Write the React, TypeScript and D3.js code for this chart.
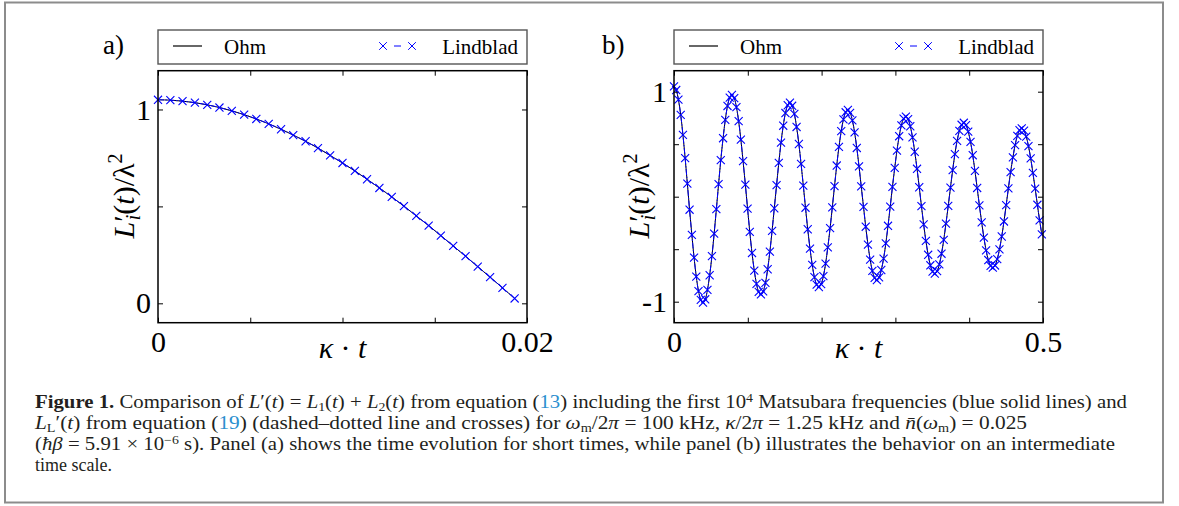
import { useEffect, useRef } from 'react';
import * as d3 from 'd3';

// panel (a): short times, kappa*t in [0, 0.02]
const aTimes = [0, 0.00067, 0.00133, 0.002, 0.00267, 0.00333, 0.004, 0.00467, 0.00533, 0.006, 0.00667, 0.00733, 0.008, 0.00867, 0.00933, 0.01, 0.01067, 0.01133, 0.012, 0.01267, 0.01333, 0.014, 0.01467, 0.01533, 0.016, 0.01667, 0.01733, 0.018, 0.01867, 0.01933];
const aValues = [1.05, 1.048, 1.043, 1.035, 1.024, 1.01, 0.993, 0.973, 0.951, 0.926, 0.898, 0.868, 0.836, 0.801, 0.763, 0.724, 0.683, 0.64, 0.595, 0.549, 0.501, 0.451, 0.401, 0.349, 0.296, 0.243, 0.189, 0.135, 0.08, 0.025];
const aXTicks = [0, 0.005, 0.01, 0.015, 0.02];
const aXTickLabels = ['0', '', '', '', '0.02'];
const aYTicks = [0, 0.5, 1];
const aYTickLabels = ['0', '', '1'];

// panel (b): intermediate times, kappa*t in [0, 0.5]
const bTimes = [
  0, 0.003, 0.006, 0.0091, 0.0121, 0.0151, 0.0181, 0.0211, 0.0242, 0.0272, 0.0302, 0.0332, 0.0363, 0.0393, 0.0423, 0.0453, 0.0483, 0.0514, 0.0544, 0.0574, 0.0604, 0.0634, 0.0665, 0.0695, 0.0725, 0.0755,
  0.0785, 0.0816, 0.0846, 0.0876, 0.0906, 0.0936, 0.0967, 0.0997, 0.1027, 0.1057, 0.1088, 0.1118, 0.1148, 0.1178, 0.1208, 0.1239, 0.1269, 0.1299, 0.1329, 0.1359, 0.139, 0.142, 0.145, 0.148, 0.151, 0.1541,
  0.1571, 0.1601, 0.1631, 0.1661, 0.1692, 0.1722, 0.1752, 0.1782, 0.1812, 0.1843, 0.1873, 0.1903, 0.1933, 0.1963, 0.1994, 0.2024, 0.2054, 0.2084, 0.2115, 0.2145, 0.2175, 0.2205, 0.2235, 0.2266, 0.2296, 0.2326,
  0.2356, 0.2386, 0.2417, 0.2447, 0.2477, 0.2507, 0.2537, 0.2568, 0.2598, 0.2628, 0.2658, 0.2688, 0.2719, 0.2749, 0.2779, 0.2809, 0.284, 0.287, 0.29, 0.293, 0.296, 0.2991, 0.3021, 0.3051, 0.3081, 0.3111,
  0.3142, 0.3172, 0.3202, 0.3232, 0.3262, 0.3293, 0.3323, 0.3353, 0.3383, 0.3413, 0.3444, 0.3474, 0.3504, 0.3534, 0.3565, 0.3595, 0.3625, 0.3655, 0.3685, 0.3716, 0.3746, 0.3776, 0.3806, 0.3836, 0.3867, 0.3897,
  0.3927, 0.3957, 0.3987, 0.4018, 0.4048, 0.4078, 0.4108, 0.4138, 0.4169, 0.4199, 0.4229, 0.4259, 0.429, 0.432, 0.435, 0.438, 0.441, 0.4441, 0.4471, 0.4501, 0.4531, 0.4561, 0.4592, 0.4622, 0.4652, 0.4682,
  0.4712, 0.4743, 0.4773, 0.4803, 0.4833, 0.4863, 0.4894, 0.4924, 0.4954, 0.4984,
];
const bValues = [
  1.05, 1.016, 0.924, 0.779, 0.589, 0.367, 0.124, -0.124, -0.363, -0.58, -0.762, -0.899, -0.982, -1.009, -0.977, -0.888, -0.748, -0.566, -0.352, -0.119, 0.119, 0.349, 0.557, 0.732, 0.864, 0.944,
  0.969, 0.938, 0.853, 0.719, 0.544, 0.338, 0.115, -0.114, -0.335, -0.536, -0.704, -0.83, -0.907, -0.931, -0.901, -0.82, -0.691, -0.523, -0.325, -0.11, 0.11, 0.322, 0.515, 0.676, 0.797, 0.871,
  0.895, 0.866, 0.788, 0.664, 0.502, 0.312, 0.106, -0.105, -0.31, -0.494, -0.649, -0.766, -0.837, -0.86, -0.832, -0.757, -0.638, -0.482, -0.3, -0.102, 0.101, 0.297, 0.475, 0.624, 0.736, 0.804,
  0.826, 0.799, 0.727, 0.613, 0.464, 0.288, 0.098, -0.097, -0.286, -0.456, -0.6, -0.707, -0.773, -0.794, -0.768, -0.698, -0.589, -0.445, -0.277, -0.094, 0.094, 0.275, 0.439, 0.576, 0.679, 0.743,
  0.763, 0.738, 0.671, 0.565, 0.428, 0.266, 0.09, -0.09, -0.264, -0.421, -0.553, -0.653, -0.713, -0.733, -0.709, -0.645, -0.543, -0.411, -0.256, -0.087, 0.086, 0.253, 0.405, 0.532, 0.627, 0.685,
  0.704, 0.681, 0.62, 0.522, 0.395, 0.246, 0.083, -0.083, -0.244, -0.389, -0.511, -0.603, -0.659, -0.676, -0.655, -0.595, -0.502, -0.379, -0.236, -0.08, 0.08, 0.234, 0.374, 0.491, 0.579, 0.633,
  0.65, 0.629, 0.572, 0.482, 0.365, 0.227, 0.077, -0.077, -0.225, -0.359,
];
const bXTicks = [0, 0.1, 0.2, 0.3, 0.4, 0.5];
const bXTickLabels = ['0', '', '', '', '', '0.5'];
const bYTicks = [-1, -0.5, 0, 0.5, 1];
const bYTickLabels = ['-1', '', '', '', '1'];

const legendNames = ['Ohm', 'Lindblad'];

const FONT = '"Liberation Serif", "Times New Roman", serif';
const BLUE = '#0000ff';
const REF = '#2b8fcf';
const TOP = 70.7;
const BOTTOM = 322.7;

type Panel = {
  tag: string;
  times: number[];
  values: number[];
  xDomain: [number, number];
  yDomain: [number, number];
  xTicks: number[];
  xTickLabels: string[];
  yTicks: number[];
  yTickLabels: string[];
  left: number;
  right: number;
  tagX: number;
  yLabelX: number;
};

const panels: Panel[] = [
  { tag: 'a)', times: aTimes, values: aValues, xDomain: [0, 0.02], yDomain: [-0.1, 1.2], xTicks: aXTicks, xTickLabels: aXTickLabels, yTicks: aYTicks, yTickLabels: aYTickLabels, left: 158, right: 527, tagX: 103, yLabelX: 134 },
  { tag: 'b)', times: bTimes, values: bValues, xDomain: [0, 0.5], yDomain: [-1.2, 1.2], xTicks: bXTicks, xTickLabels: bXTickLabels, yTicks: bYTicks, yTickLabels: bYTickLabels, left: 674, right: 1043, tagX: 602, yLabelX: 649 },
];

const drawPanel = (root: any, p: Panel) => {
  const g = root.append('g');
  const x = d3.scaleLinear().domain(p.xDomain).range([p.left, p.right]);
  const y = d3.scaleLinear().domain(p.yDomain).range([BOTTOM, TOP]);
  const fmt = (ticks: number[], labels: string[]) => (d: any) => labels[ticks.indexOf(d)] ?? '';
  const none = () => '';

  // axes, ticks pointing inward on all four sides
  const axes = [
    { axis: d3.axisBottom(x).tickValues(p.xTicks).tickFormat(fmt(p.xTicks, p.xTickLabels)).tickPadding(8), t: `translate(0,${BOTTOM})` },
    { axis: d3.axisTop(x).tickValues(p.xTicks).tickFormat(none), t: `translate(0,${TOP})` },
    { axis: d3.axisLeft(y).tickValues(p.yTicks).tickFormat(fmt(p.yTicks, p.yTickLabels)).tickPadding(7), t: `translate(${p.left},0)` },
    { axis: d3.axisRight(y).tickValues(p.yTicks).tickFormat(none), t: `translate(${p.right},0)` },
  ];
  axes.forEach(({ axis, t }) => {
    const a = g.append('g').attr('transform', t).call(axis.tickSizeInner(-5).tickSizeOuter(0));
    a.select('.domain').remove();
    a.selectAll('line').attr('stroke', '#000').attr('stroke-width', 1);
    a.selectAll('text').attr('font-family', FONT).attr('font-size', 30).attr('fill', '#000');
  });

  // curves: Ohm (black solid) and Lindblad (blue dash-dot with crosses) coincide
  const line = d3
    .line<number>()
    .x((_, i) => x(p.times[i]))
    .y((v) => y(v))
    .curve(d3.curveCatmullRom);
  g.append('path').attr('d', line(p.values)).attr('fill', 'none').attr('stroke', '#000').attr('stroke-width', 1);
  g.append('path').attr('d', line(p.values)).attr('fill', 'none').attr('stroke', BLUE).attr('stroke-width', 1).attr('stroke-dasharray', '6,1.5,1.5,1.5');
  g.selectAll('path.cross')
    .data(p.values)
    .join('path')
    .attr('class', 'cross')
    .attr('d', d3.symbol(d3.symbolX, 44)())
    .attr('transform', (v: number, i: number) => `translate(${x(p.times[i])},${y(v)})`)
    .attr('fill', 'none')
    .attr('stroke', BLUE)
    .attr('stroke-width', 1.1);

  // frame
  g.append('rect')
    .attr('x', p.left)
    .attr('y', TOP)
    .attr('width', p.right - p.left)
    .attr('height', BOTTOM - TOP)
    .attr('fill', 'none')
    .attr('stroke', '#000')
    .attr('stroke-width', 1.5);

  // legend above the plot
  const lg = g.append('g').attr('transform', `translate(${p.left},30)`);
  lg.append('rect').attr('width', p.right - p.left).attr('height', 34).attr('fill', '#fff').attr('stroke', '#555').attr('stroke-width', 1.4);
  lg.append('line').attr('x1', 15).attr('x2', 44).attr('y1', 16).attr('y2', 16).attr('stroke', '#000').attr('stroke-width', 1.2);
  lg.append('text').attr('x', 66).attr('y', 23.5).text(legendNames[0]);
  [225, 254].forEach((cx) => {
    lg.append('path').attr('d', d3.symbol(d3.symbolX, 40)()).attr('transform', `translate(${cx},16)`).attr('fill', 'none').attr('stroke', BLUE).attr('stroke-width', 1);
  });
  lg.append('line').attr('x1', 236).attr('x2', 243).attr('y1', 16).attr('y2', 16).attr('stroke', BLUE).attr('stroke-width', 1);
  lg.append('text').attr('x', p.right - p.left - 9).attr('y', 23.5).attr('text-anchor', 'end').text(legendNames[1]);
  lg.selectAll('text').attr('font-family', FONT).attr('font-size', 21).attr('fill', '#000');

  // panel tag
  g.append('text').attr('x', p.tagX).attr('y', 54).attr('font-family', FONT).attr('font-size', 27).text(p.tag);

  // x label
  const xl = g
    .append('text')
    .attr('x', (p.left + p.right) / 2)
    .attr('y', 358)
    .attr('text-anchor', 'middle')
    .attr('font-family', FONT)
    .attr('font-size', 30);
  xl.append('tspan').attr('font-style', 'italic').text('κ');
  xl.append('tspan').text(' · ');
  xl.append('tspan').attr('font-style', 'italic').text('t');

  // y label
  const yl = g
    .append('text')
    .attr('transform', `translate(${p.yLabelX},196) rotate(-90)`)
    .attr('text-anchor', 'middle')
    .attr('font-family', FONT)
    .attr('font-size', 30);
  yl.append('tspan').attr('font-style', 'italic').text('L');
  yl.append('tspan').text('′');
  yl.append('tspan').attr('font-style', 'italic').attr('font-size', 20).attr('dx', -5).attr('dy', 6).text('i');
  yl.append('tspan').attr('dy', -6).text('(');
  yl.append('tspan').attr('font-style', 'italic').text('t');
  yl.append('tspan').text(')/λ');
  yl.append('tspan').attr('font-size', 20).attr('dy', -12).text('2');
};

const It = ({ c }: { c: string }) => <tspan fontStyle="italic">{c}</tspan>;
const Sub = ({ c }: { c: string }) => (
  <tspan fontSize={12} baselineShift={-3}>
    {c}
  </tspan>
);
const Sup = ({ c }: { c: string }) => (
  <tspan fontSize={12} baselineShift={6}>
    {c}
  </tspan>
);

const App = () => {
  const ref = useRef<SVGGElement>(null);

  useEffect(() => {
    const root = d3.select(ref.current);
    root.selectAll('*').remove();
    panels.forEach((p) => drawPanel(root, p));
  }, []);

  return (
    <svg width={1179} height={506} style={{ position: 'absolute', left: 0, top: 0, background: '#fff' }}>
      <rect x={5} y={2.5} width={1158} height={500} fill="#fff" stroke="#8c8c8c" strokeWidth={2} />
      <g ref={ref} />
      <g fontFamily={FONT} fontSize={18} fill="#231f20">
        <text x={35} y={408} textLength={1092} lengthAdjust="spacingAndGlyphs">
          <tspan fontWeight="bold">Figure 1.</tspan> Comparison of <It c="L" />′(<It c="t" />) = <It c="L" /><Sub c="1" />(<It c="t" />) + <It c="L" /><Sub c="2" />(<It c="t" />) from equation (<tspan fill={REF}>13</tspan>) including the first 10<Sup c="4" /> Matsubara frequencies (blue solid lines) and
        </text>
        <text x={35} y={429} textLength={992} lengthAdjust="spacingAndGlyphs">
          <It c="L" /><Sub c="L" />′(<It c="t" />) from equation (<tspan fill={REF}>19</tspan>) (dashed–dotted line and crosses) for <It c="ω" /><Sub c="m" />/2<It c="π" /> = 100 kHz, <It c="κ" />/2<It c="π" /> = 1.25 kHz and <It c="n̄" />(<It c="ω" /><Sub c="m" />) = 0.025
        </text>
        <text x={35} y={450} textLength={1080} lengthAdjust="spacingAndGlyphs">
          (<It c="ħβ" /> = 5.91 × 10<Sup c="−6" />  s). Panel (a) shows the time evolution for short times, while panel (b) illustrates the behavior on an intermediate
        </text>
        <text x={35} y={471}>time scale.</text>
      </g>
    </svg>
  );
};

export default App;
